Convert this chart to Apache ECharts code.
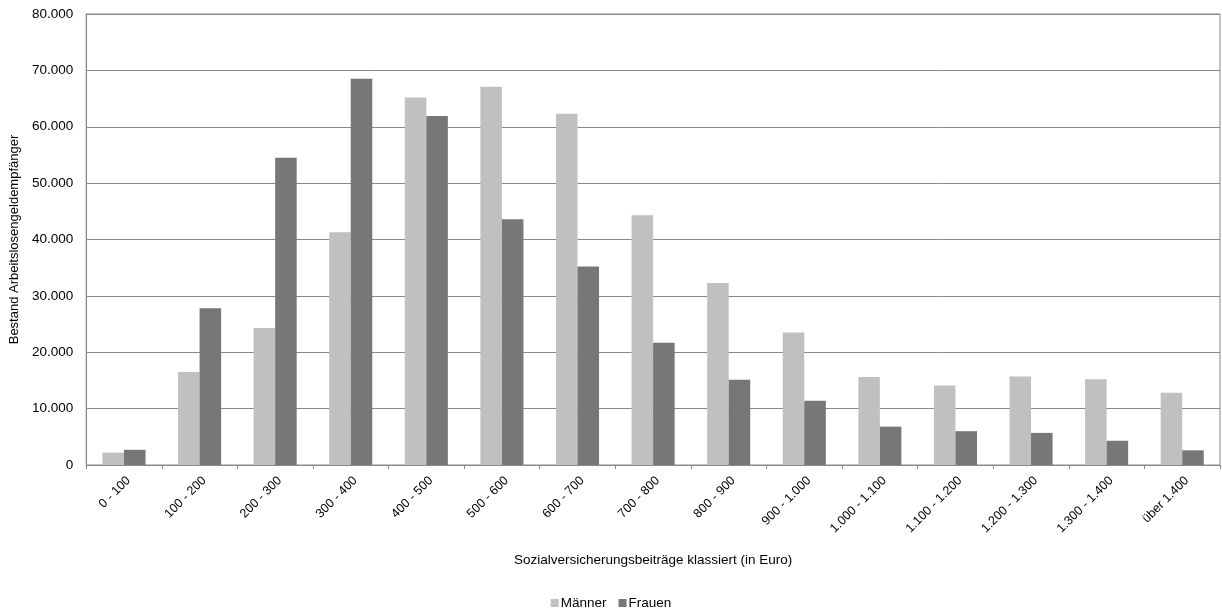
<!DOCTYPE html>
<html>
<head>
<meta charset="utf-8">
<script src="https://cdn.jsdelivr.net/npm/echarts@6/dist/echarts.min.js"></script>
<style>
  html, body { margin: 0; padding: 0; background: #ffffff; }
  #chart { width: 1222px; height: 609px; }
</style>
</head>
<body>
<div id="chart"></div>
<script>
// Beitragsklassen (Euro)
const categories = [
  '0 - 100', '100 - 200', '200 - 300', '300 - 400', '400 - 500',
  '500 - 600', '600 - 700', '700 - 800', '800 - 900', '900 - 1.000',
  '1.000 - 1.100', '1.100 - 1.200', '1.200 - 1.300', '1.300 - 1.400', 'über 1.400'
];

// Bestand Arbeitslosengeldempfänger je Klasse
const maenner = [2200, 16500, 24300, 41300, 65200, 67100, 62300, 44300, 32300, 23500, 15600, 14100, 15700, 15200, 12800];
const frauen  = [2700, 27800, 54500, 68500, 61900, 43600, 35200, 21700, 15100, 11400, 6800, 6000, 5700, 4300, 2600];

const yMin = 0;
const yMax = 80000;
const yStep = 10000;

const FONT = '"Liberation Sans", Arial, sans-serif';
const fmt = v => String(v).replace(/\B(?=(\d{3})+(?!\d))/g, '.');

const chart = echarts.init(document.getElementById('chart'), null, { renderer: 'canvas' });

chart.setOption({
  animation: false,
  backgroundColor: '#ffffff',
  textStyle: { fontFamily: FONT },
  grid: {
    left: 86, right: 2, top: 14, bottom: 144,
    show: true, borderColor: '#8a8a8a', borderWidth: 1, backgroundColor: 'transparent'
  },
  legend: {
    data: ['Männer', 'Frauen'],
    left: 'center',
    top: 591,
    itemWidth: 8,
    itemHeight: 8,
    itemGap: 12,
    icon: 'rect',
    textStyle: { fontFamily: FONT, fontSize: 13.5, color: '#000000', padding: [0, 0, 0, -3] }
  },
  xAxis: {
    type: 'category',
    data: categories,
    name: 'Sozialversicherungsbeiträge klassiert (in Euro)',
    nameLocation: 'middle',
    nameGap: 88,
    nameTextStyle: { fontFamily: FONT, fontSize: 13.5, color: '#000000' },
    axisLine: { lineStyle: { color: '#8a8a8a', width: 1 } },
    axisTick: { show: true, length: 4, lineStyle: { color: '#8a8a8a' } },
    axisLabel: {
      rotate: 45, margin: 9, verticalAlign: 'top',
      fontFamily: FONT, fontSize: 12.5, color: '#000000', interval: 0
    },
    splitLine: { show: false }
  },
  yAxis: {
    type: 'value',
    min: yMin,
    max: yMax,
    interval: yStep,
    name: 'Bestand Arbeitslosengeldempfänger',
    nameLocation: 'middle',
    nameGap: 59,
    nameTextStyle: { fontFamily: FONT, fontSize: 13, color: '#000000' },
    axisLine: { show: true, lineStyle: { color: '#8a8a8a', width: 1 } },
    axisTick: { show: false },
    axisLabel: { margin: 13, fontFamily: FONT, fontSize: 13.5, color: '#000000', formatter: fmt },
    splitLine: { show: true, lineStyle: { color: '#8a8a8a', width: 1 } }
  },
  series: [
    {
      name: 'Männer',
      type: 'bar',
      data: maenner,
      barGap: '0%',
      barCategoryGap: '43%',
      itemStyle: { color: '#c0c0c0' }
    },
    {
      name: 'Frauen',
      type: 'bar',
      data: frauen,
      barGap: '0%',
      barCategoryGap: '43%',
      itemStyle: { color: '#777777' }
    }
  ]
});
</script>
</body>
</html>
